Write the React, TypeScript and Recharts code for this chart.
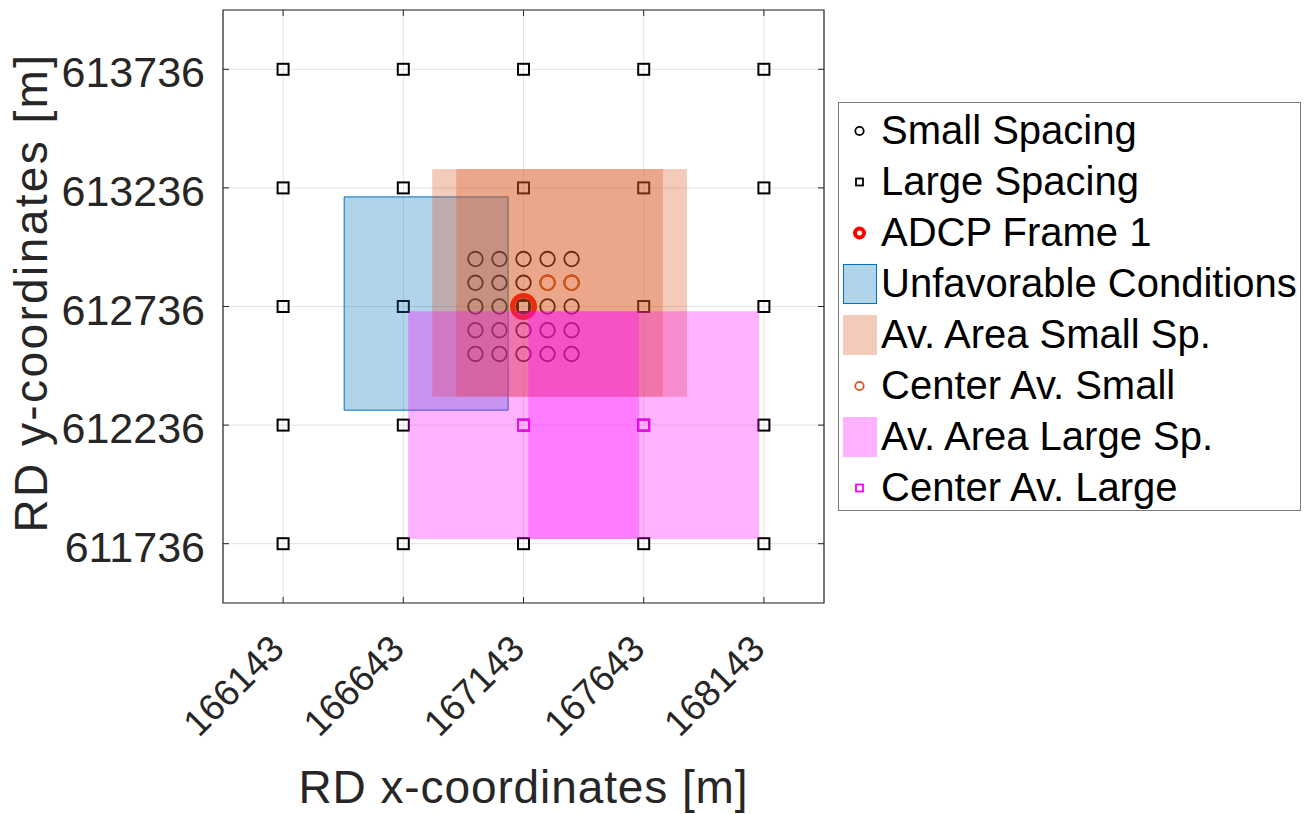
import { ScatterChart, Scatter, XAxis, YAxis, CartesianGrid, ReferenceArea, Label } from 'recharts';

// axis ticks (RD coordinates, metres)
const X_TICKS = [166143, 166643, 167143, 167643, 168143];
const Y_TICKS = [611736, 612236, 612736, 613236, 613736];
const X_DOMAIN = [165893, 168393];
const Y_DOMAIN = [611486, 613986];

// small-spacing grid (100 m)
const SMALL_X = [166943, 167043, 167143, 167243, 167343];
const SMALL_Y = [612536, 612636, 612736, 612836, 612936];

// large-spacing grid (500 m)
const LARGE_X = [166143, 166643, 167143, 167643, 168143];
const LARGE_Y = [611736, 612236, 612736, 613236, 613736];

const ADCP = [{ x: 167143, y: 612736 }];
const CENTER_SMALL = [{ x: 167243, y: 612836 }, { x: 167343, y: 612836 }];
const CENTER_LARGE = [{ x: 167143, y: 612236 }, { x: 167643, y: 612236 }];

const UNFAVORABLE = [{ x1: 166397, x2: 167079, y1: 612299, y2: 613198 }];
const AV_SMALL = [
  { x1: 166763, x2: 167723, y1: 612356, y2: 613316 },
  { x1: 166863, x2: 167823, y1: 612356, y2: 613316 },
];
const AV_LARGE = [
  { x1: 166663, x2: 167623, y1: 611756, y2: 612716 },
  { x1: 167163, x2: 168123, y1: 611756, y2: 612716 },
];

const LEGEND_LABELS = [
  'Small Spacing', 'Large Spacing', 'ADCP Frame 1', 'Unfavorable Conditions',
  'Av. Area Small Sp.', 'Center Av. Small', 'Av. Area Large Sp.', 'Center Av. Large',
];

const smallSpacing = SMALL_Y.flatMap(y => SMALL_X.map(x => ({ x, y })));
const largeSpacing = LARGE_Y.flatMap(y => LARGE_X.map(x => ({ x, y })));

const W = 1307;
const H = 814;
const PLOT = { left: 223, top: 10, right: 824, bottom: 603 };
const FONT = '"Liberation Sans", Arial, Helvetica, sans-serif';
const INK = '#262626';
const BLUE = '#0072BD';
const ORANGE = '#D95319';
const MAGENTA = '#FF00FF';
const RED = '#FF0000';

const circle = (color: string, r: number, sw: number) => (p: any) => (
  <circle cx={p.cx} cy={p.cy} r={r} fill="none" stroke={color} strokeWidth={sw} />
);
const square = (color: string, s: number, sw: number) => (p: any) => (
  <rect x={p.cx - s / 2} y={p.cy - s / 2} width={s} height={s} fill="none" stroke={color} strokeWidth={sw} />
);

function XTick({ x, payload }: any) {
  const ax = x + 3;
  const ay = 651;
  return (
    <g>
      <line x1={x} x2={x} y1={PLOT.bottom} y2={PLOT.bottom - 6} stroke={INK} />
      <line x1={x} x2={x} y1={PLOT.top} y2={PLOT.top + 6} stroke={INK} />
      <text x={ax} y={ay} transform={`rotate(-45 ${ax} ${ay})`} textAnchor="end"
        fontFamily={FONT} fontSize={37} fill={INK}>{payload.value}</text>
    </g>
  );
}

function YTick({ y, payload }: any) {
  return (
    <g>
      <line x1={PLOT.left} x2={PLOT.left + 6} y1={y} y2={y} stroke={INK} />
      <line x1={PLOT.right - 6} x2={PLOT.right} y1={y} y2={y} stroke={INK} />
      <text x={205} y={y + 18} textAnchor="end"
        fontFamily={FONT} fontSize={43} fill={INK}>{payload.value}</text>
    </g>
  );
}

function YTitle({ viewBox }: any) {
  const cx = 31;
  const cy = viewBox.y + viewBox.height / 2 - 14;
  return (
    <text x={cx} y={cy} transform={`rotate(-90 ${cx} ${cy})`} textAnchor="middle" dominantBaseline="central"
      fontFamily={FONT} fontSize={46} letterSpacing={2.4} fill={INK}>RD y-coordinates [m]</text>
  );
}

function LegendMarker({ i }: { i: number }) {
  let m = null;
  if (i === 0) m = <circle cx={16.5} cy={20} r={4.2} fill="none" stroke="#000" strokeWidth={1.8} />;
  if (i === 1) m = <rect x={13} y={16.5} width={7} height={7} fill="none" stroke="#000" strokeWidth={1.8} />;
  if (i === 2) m = <circle cx={16.5} cy={20} r={4.5} fill="#fff" stroke={RED} strokeWidth={4} />;
  if (i === 3) m = <rect x={0.5} y={0.5} width={33} height={39} fill={BLUE} fillOpacity={0.3} stroke={BLUE} strokeWidth={1} />;
  if (i === 4) m = <rect x={0} y={0} width={34} height={40} fill={ORANGE} fillOpacity={0.3} />;
  if (i === 5) m = <circle cx={16.5} cy={20} r={4.2} fill="none" stroke={ORANGE} strokeWidth={1.8} />;
  if (i === 6) m = <rect x={0} y={0} width={34} height={40} fill={MAGENTA} fillOpacity={0.3} />;
  if (i === 7) m = <rect x={13} y={16.5} width={7} height={7} fill="none" stroke={MAGENTA} strokeWidth={1.8} />;
  return <svg width={34} height={40} style={{ flex: 'none', marginLeft: 4, marginRight: 4 }}>{m}</svg>;
}

function ChartLegend() {
  return (
    <div style={{
      position: 'absolute', left: 838, top: 102, width: 463, height: 409,
      border: '1px solid #7a7a7a', background: '#fff', boxSizing: 'border-box',
      paddingTop: 2, fontFamily: FONT, fontSize: 40, color: '#000',
    }}>
      {LEGEND_LABELS.map((label, i) => (
        <div key={label} style={{ display: 'flex', alignItems: 'center', height: 51, whiteSpace: 'nowrap' }}>
          <LegendMarker i={i} />
          <span style={{ lineHeight: '51px' }}>{label}</span>
        </div>
      ))}
    </div>
  );
}

export default function App() {
  return (
    <div style={{ position: 'absolute', left: 0, top: 0, width: W, height: H, background: '#fff' }}>
      <ScatterChart width={W} height={H} margin={{ top: PLOT.top, right: W - PLOT.right, bottom: 0, left: 0 }}>
        <CartesianGrid stroke="#e3e3e3" strokeWidth={1} />
        <XAxis type="number" dataKey="x" domain={X_DOMAIN} ticks={X_TICKS} height={H - PLOT.bottom}
          axisLine={false} tickLine={false} tick={<XTick />} interval={0} allowDataOverflow>
          <Label value="RD x-coordinates [m]" position="insideBottom" offset={11}
            style={{ fontFamily: FONT, fontSize: 46, letterSpacing: 0.9, fill: INK }} />
        </XAxis>
        <YAxis type="number" dataKey="y" domain={Y_DOMAIN} ticks={Y_TICKS} width={PLOT.left}
          axisLine={false} tickLine={false} tick={<YTick />} interval={0} allowDataOverflow>
          <Label content={<YTitle />} />
        </YAxis>

        <Scatter data={smallSpacing} shape={circle('#000', 7.3, 1.8)} isAnimationActive={false} />
        <Scatter data={largeSpacing} shape={square('#000', 11, 2)} isAnimationActive={false} />
        <Scatter data={ADCP} shape={circle(RED, 11, 5)} isAnimationActive={false} />
        <Scatter data={CENTER_SMALL} shape={circle(ORANGE, 7.3, 1.8)} isAnimationActive={false} />
        <Scatter data={CENTER_LARGE} shape={square(MAGENTA, 11, 2)} isAnimationActive={false} />

        {UNFAVORABLE.map((a, i) => (
          <ReferenceArea key={`u${i}`} {...a} fill={BLUE} fillOpacity={0.3} stroke={BLUE} strokeWidth={1}
            strokeOpacity={1} zIndex={700} />
        ))}
        {AV_SMALL.map((a, i) => (
          <ReferenceArea key={`s${i}`} {...a} fill={ORANGE} fillOpacity={0.3} stroke="none" zIndex={700} />
        ))}
        {AV_LARGE.map((a, i) => (
          <ReferenceArea key={`l${i}`} {...a} fill={MAGENTA} fillOpacity={0.3} stroke="none" zIndex={700} />
        ))}
        <ReferenceArea x1={X_DOMAIN[0]} x2={X_DOMAIN[1]} y1={Y_DOMAIN[0]} y2={Y_DOMAIN[1]}
          fill="none" stroke={INK} strokeWidth={1.2} zIndex={800} />
      </ScatterChart>
      <ChartLegend />
    </div>
  );
}
